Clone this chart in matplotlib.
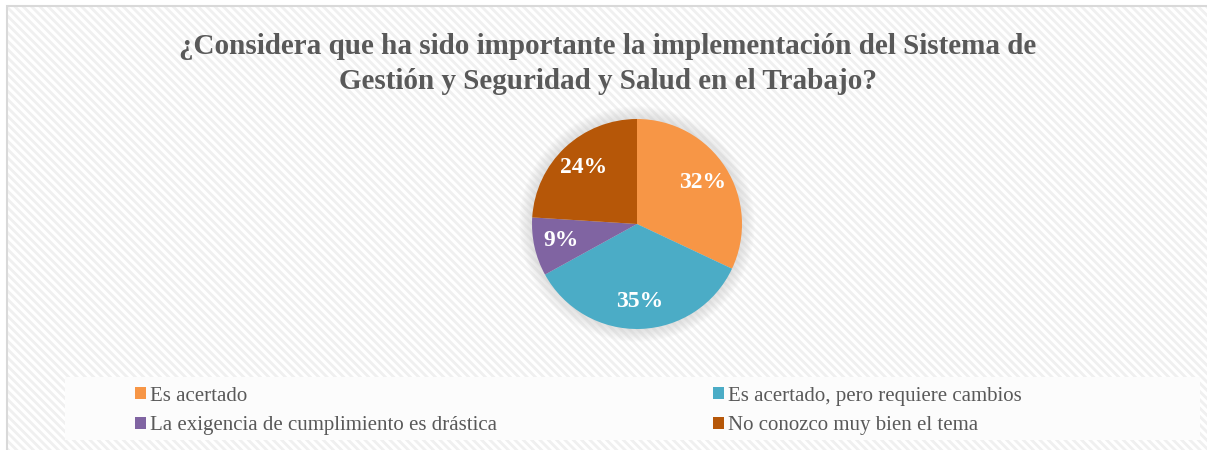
import matplotlib.pyplot as plt
from matplotlib.patches import Rectangle, Circle

categories = ['Es acertado', 'Es acertado, pero requiere cambios',
              'La exigencia de cumplimiento es drástica', 'No conozco muy bien el tema']
values = [32, 35, 9, 24]
colors = ['#F79646', '#4BACC6', '#8064A2', '#B65708']
title = '¿Considera que ha sido importante la implementación del Sistema de\nGestión y Seguridad y Salud en el Trabajo?'

W, H = 1207, 450
plt.rcParams['font.family'] = ['Liberation Serif', 'DejaVu Serif']
plt.rcParams['hatch.linewidth'] = 2.0
plt.rcParams['hatch.color'] = '#F0F0F0'

fig = plt.figure(figsize=(W / 100, H / 100), dpi=100)
fig.patch.set_facecolor('white')

# hatched chart area + border
bg = Rectangle((7 / W, 0), 1.2, (H - 6) / H, transform=fig.transFigure,
               facecolor='white', edgecolor='#F0F0F0', hatch='\\\\\\\\', lw=0, zorder=-2)
fig.patches.append(bg)
border = Rectangle((7 / W, -0.1), 1.2, (H - 6) / H + 0.1, transform=fig.transFigure,
                   facecolor='none', edgecolor='#D9D9D9', lw=1.5, zorder=-1)
fig.patches.append(border)

# legend box
lbox = Rectangle((65 / W, (H - 440) / H), (1200 - 65) / W, 63 / H, transform=fig.transFigure,
                 facecolor='#FCFCFC', edgecolor='none', zorder=-1)
fig.patches.append(lbox)

fig.text(608 / W, 1 - 64 / H, title, ha='center', va='center', fontsize=21,
         fontweight='bold', color='#595959', linespacing=1.35)

cx, cy, r = 637, 224, 105
ax = fig.add_axes([(cx - r) / W, (H - cy - r) / H, 2 * r / W, 2 * r / H])
ax.set_zorder(5)
ax.patch.set_alpha(0)
ax.axis('off')

# soft shadow around the pie
for i in range(10):
    ax.add_patch(Circle((0, 0), 1.0 + 0.012 * (10 - i), color='#C8C8C8',
                        alpha=0.06, lw=0, zorder=0, clip_on=False))

wedges, texts, autotexts = ax.pie(values, colors=colors, startangle=90, counterclock=False,
                                  autopct='%1.0f%%', pctdistance=0.74, radius=1,
                                  wedgeprops=dict(lw=0))
for t in autotexts:
    t.set_color('white')
    t.set_fontsize(17)
    t.set_fontweight('bold')
ax.set_aspect('equal')
ax.set_xlim(-1, 1)
ax.set_ylim(-1, 1)

order = [0, 2, 1, 3]
leg = fig.legend([wedges[i] for i in order], [categories[i] for i in order], ncol=2,
                 loc='center left', bbox_to_anchor=(116 / W, 1 - 411 / H), frameon=False,
                 fontsize=15, labelcolor='#595959', handlelength=0.55, handleheight=0.55,
                 handletextpad=0.2, columnspacing=10.33, labelspacing=0.52)
leg.set_zorder(6)

fig.savefig('out.png', dpi=100)
